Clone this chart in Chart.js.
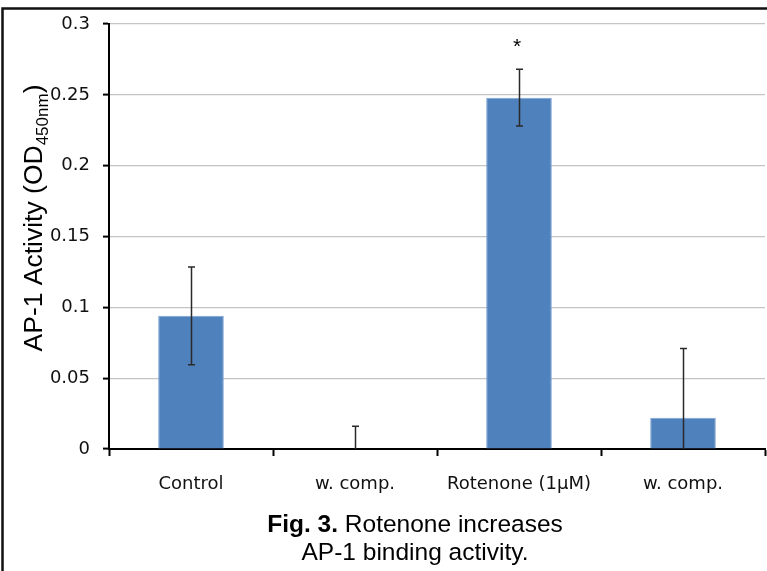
<!DOCTYPE html>
<html>
<head>
<meta charset="utf-8">
<script src="https://cdn.jsdelivr.net/npm/chart.js@4.4.1/dist/chart.umd.min.js"></script>
<style>
  html, body { margin: 0; padding: 0; background: #fff; }
  #wrap { width: 767px; height: 571px; position: relative; }
</style>
</head>
<body>
<div id="wrap"><canvas id="c" width="767" height="571"></canvas></div>
<script>
// AP-1 binding activity (OD at 450 nm), mean and error per treatment
const categories = ['Control', 'w. comp.', 'Rotenone (1\u00B5M)', 'w. comp.'];
const activity   = [0.094, 0.0, 0.248, 0.022];
const errors     = [0.0345, 0.016, 0.020, 0.049];
const marks      = ['', '', '*', ''];
const yTicks     = [0, 0.05, 0.1, 0.15, 0.2, 0.25, 0.3];

const BAR_BLUE = '#4F81BD';
const TICK_FONT = '"DejaVu Sans", Verdana, sans-serif';

// frame lines along the left and top edges of the figure
const framePlugin = {
  id: 'frame',
  afterDraw(chart) {
    const ctx = chart.ctx;
    ctx.save();
    ctx.strokeStyle = '#111';
    ctx.lineWidth = 2.5;
    ctx.beginPath();
    ctx.moveTo(2.5, 571);
    ctx.lineTo(2.5, 8.5);
    ctx.lineTo(767, 8.5);
    ctx.stroke();
    ctx.restore();
  }
};

// vertical error bars with caps, clipped to the plot area
const errorBarPlugin = {
  id: 'errorBars',
  afterDatasetsDraw(chart) {
    const ctx = chart.ctx;
    const area = chart.chartArea;
    const y = chart.scales.y;
    const meta = chart.getDatasetMeta(0);
    ctx.save();
    ctx.beginPath();
    ctx.rect(area.left, area.top - 20, area.right - area.left, area.bottom - area.top + 20);
    ctx.clip();
    ctx.strokeStyle = '#2a2a2a';
    ctx.lineWidth = 1.5;
    meta.data.forEach((bar, i) => {
      const cx = Math.round(bar.x) + 0.5;
      const hi = y.getPixelForValue(activity[i] + errors[i]);
      const lo = y.getPixelForValue(activity[i] - errors[i]);
      ctx.beginPath();
      ctx.moveTo(cx, hi); ctx.lineTo(cx, lo);
      ctx.moveTo(cx - 3.5, hi); ctx.lineTo(cx + 3.5, hi);
      ctx.moveTo(cx - 3.5, lo); ctx.lineTo(cx + 3.5, lo);
      ctx.stroke();
    });
    ctx.restore();

    // significance marks above the error bars
    ctx.save();
    ctx.fillStyle = '#000';
    ctx.font = '21px "Liberation Sans", Arial, sans-serif';
    ctx.textAlign = 'center';
    ctx.textBaseline = 'middle';
    meta.data.forEach((bar, i) => {
      if (!marks[i]) return;
      const hi = y.getPixelForValue(activity[i] + errors[i]);
      ctx.fillText(marks[i], bar.x - 2, hi - 22);
    });
    ctx.restore();
  }
};

// rotated y-axis title with a subscript, and the figure caption
const textPlugin = {
  id: 'texts',
  afterDraw(chart) {
    const ctx = chart.ctx;
    const main = 'AP-1 Activity (OD';
    const sub = '450nm';
    const tail = ')';
    const fMain = '26.5px "Liberation Sans", Arial, sans-serif';
    const fSub = '17px "Liberation Sans", Arial, sans-serif';
    ctx.save();
    ctx.fillStyle = '#000';
    ctx.font = fMain; const w1 = ctx.measureText(main).width; const w3 = ctx.measureText(tail).width;
    ctx.font = fSub;  const w2 = ctx.measureText(sub).width;
    const total = w1 + w2 + w3;
    ctx.translate(42, 218);
    ctx.rotate(-Math.PI / 2);
    ctx.textBaseline = 'alphabetic';
    ctx.textAlign = 'left';
    const x0 = -total / 2;
    ctx.font = fMain; ctx.fillText(main, x0, 0);
    ctx.font = fSub;  ctx.fillText(sub, x0 + w1, 6);
    ctx.font = fMain; ctx.fillText(tail, x0 + w1 + w2, 0);
    ctx.restore();

    // caption
    ctx.save();
    ctx.fillStyle = '#000';
    ctx.textBaseline = 'alphabetic';
    const bold = 'Fig. 3.';
    const rest = ' Rotenone increases';
    const fb = 'bold 24.5px "Liberation Sans", Arial, sans-serif';
    const fn = '24.5px "Liberation Sans", Arial, sans-serif';
    ctx.font = fb; const bw = ctx.measureText(bold).width;
    ctx.font = fn; const rw = ctx.measureText(rest).width;
    const cx = 415;
    const sx = cx - (bw + rw) / 2;
    ctx.textAlign = 'left';
    ctx.font = fb; ctx.fillText(bold, sx, 532);
    ctx.font = fn; ctx.fillText(rest, sx + bw, 532);
    ctx.textAlign = 'center';
    ctx.fillText('AP-1 binding activity.', cx, 560);
    ctx.restore();
  }
};

new Chart(document.getElementById('c'), {
  type: 'bar',
  data: {
    labels: categories,
    datasets: [{
      data: activity,
      backgroundColor: BAR_BLUE,
      borderColor: '#7ea3d3',
      borderWidth: 1,
      barPercentage: 0.4,
      categoryPercentage: 1.0
    }]
  },
  options: {
    responsive: false,
    animation: false,
    devicePixelRatio: 1,
    layout: { padding: { left: 0, right: 2, top: 24, bottom: 0 } },
    plugins: {
      legend: { display: false },
      tooltip: { enabled: false },
      title: { display: false }
    },
    scales: {
      x: {
        offset: true,
        grid: {
          display: true,
          drawOnChartArea: false,
          drawTicks: true,
          tickLength: 7,
          tickColor: '#000',
          tickWidth: 2
        },
        border: { display: true, color: '#000', width: 2 },
        ticks: {
          color: '#111',
          padding: 18,
          maxRotation: 0,
          font: { family: TICK_FONT, size: 18 }
        },
        afterFit(scale) { scale.height = 122; }
      },
      y: {
        min: 0,
        max: 0.3,
        afterBuildTicks(scale) { scale.ticks = yTicks.map(v => ({ value: v })); },
        grid: {
          color: '#c4c4c4',
          lineWidth: 1.2,
          drawTicks: true,
          tickLength: 6,
          tickColor: '#000',
          tickWidth: 2
        },
        border: { display: true, color: '#000', width: 2 },
        ticks: {
          color: '#111',
          padding: 13,
          font: { family: TICK_FONT, size: 18 },
          callback: (v) => String(+v.toFixed(2))
        },
        afterFit(scale) { scale.width = 109; }
      }
    }
  },
  plugins: [framePlugin, errorBarPlugin, textPlugin]
});
</script>
</body>
</html>
